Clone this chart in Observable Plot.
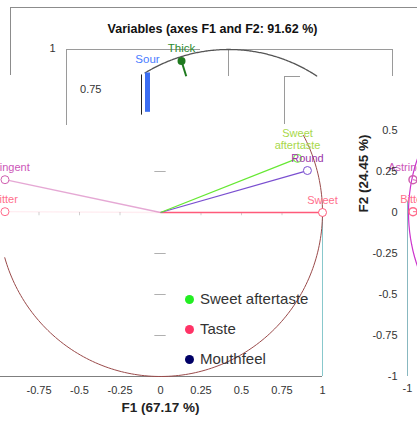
<!DOCTYPE html>
<html><head><meta charset="utf-8">
<script src="https://cdn.jsdelivr.net/npm/d3@7"></script>
<script src="https://cdn.jsdelivr.net/npm/@observablehq/plot@0.6"></script>
<style>
html,body{margin:0;padding:0;background:#fff;overflow:hidden;}
#wrap{position:relative;width:417px;height:425px;font-family:"Liberation Sans",Arial,sans-serif;overflow:hidden;}
.deco{position:absolute;border-color:#8c8c8c;border-style:solid;border-width:0;box-sizing:border-box;}
#chart{position:absolute;left:0;top:0;}
.title{position:absolute;top:22px;left:0;width:425px;text-align:center;font-weight:bold;font-size:12.5px;color:#111;}
.legend{position:absolute;left:185px;top:284px;font-size:15px;color:#333;}
.legend .row{height:30px;line-height:18px;display:flex;align-items:center;}
.legend .dot{width:9px;height:9px;border-radius:50%;margin-right:6px;}
</style>
</head><body>
<div id="wrap">
  <div class="deco" style="left:10px;top:7px;width:407px;height:68px;border-top-width:1px;border-left-width:1px;"></div>
  <div class="deco" style="left:66px;top:49px;width:134px;height:76px;border-top-width:1px;border-left-width:1px;border-color:#9a9a9a;"></div>
  <div class="deco" style="left:228px;top:49px;width:165px;height:27px;border-top-width:1px;border-left-width:1px;border-right-width:1px;border-color:#9a9a9a;"></div>
  <div class="deco" style="left:284px;top:76px;width:16px;height:48px;border-top-width:1px;border-left-width:1px;border-color:#9a9a9a;"></div>
  <div id="chart"></div>
  <div class="title" id="title"></div>
  <div class="legend" id="legend"></div>
</div>
<script>
// ---- data ----
const variables = ["Sweet", "Round", "Sweet aftertaste", "Astringent", "Bitter", "Sour", "Thick"];
const f1 = [1.0, 0.907, 0.846, -0.96, -0.96, -0.5, -0.29];
const f2 = [0.0, 0.256, 0.33, 0.2, 0.005, 0.86, 0.93];
const varColors = ["#ff5a7a", "#7a4fd0", "#66e833", "#d060b0", "#ff6a8a", "#3c6ef2", "#1f7a1f"];
const labelColors = ["#ff6f8c", "#9a35a8", "#a8d84a", "#cc55b8", "#ff6f8c", "#4a7cff", "#2e8b2e"];
const xTicks = [-0.75, -0.5, -0.25, 0, 0.25, 0.5, 0.75, 1];
const yTicks = [0.5, 0.25, 0, -0.25, -0.5, -0.75, -1];
const centerTicksY = [0.25, -0.25, -0.5, -0.75];
const centerTicksX = [-0.75, -0.5, -0.25, 0.25, 0.5, 0.75];
const legendLabels = ["Sweet aftertaste", "Taste", "Mouthfeel"];
const legendColors = ["#22ee22", "#ff3366", "#000066"];
const titleText = "Variables (axes F1 and F2: 91.62 %)";
const xLabel = "F1 (67.17 %)";
const yLabel = "F2 (24.45 %)";

// ---- helpers ----
const idx = d3.range(variables.length);
const topCopy = ["Sour", "Thick"];
const rightCopy = ["Astringent", "Bitter"];
const mainIdx = idx.filter(i => !topCopy.includes(variables[i]));
const topIdx = idx.filter(i => topCopy.includes(variables[i]));
const rightIdx = idx.filter(i => rightCopy.includes(variables[i]));
const arc = (a0, a1, n = 160) => d3.range(n + 1).map(k => {
  const t = (a0 + (a1 - a0) * k / n) * Math.PI / 180;
  return [Math.cos(t), Math.sin(t)];
});
const labelText = i => variables[i] === "Sweet aftertaste" ? "Sweet\naftertaste" : variables[i];

const fontFamily = '"Liberation Sans", Arial, sans-serif';

const plot = Plot.plot({
  width: 417,
  height: 425,
  marginLeft: 0,
  marginRight: 95,
  marginTop: 48,
  marginBottom: 49,
  x: {domain: [-1, 1], range: [-2, 322]},
  y: {domain: [-1, 1], range: [376, 48]},
  style: {background: "transparent", overflow: "visible", fontFamily},
  marks: [
    // center cross ticks
    Plot.ruleY(centerTicksY, {y: d => d, x1: () => -0.035, x2: () => 0.035, stroke: "#b0b0b0"}),
    Plot.ruleX(centerTicksX, {x: d => d, y1: () => -0.02, y2: () => 0, stroke: "#cfcfcf"}),
    // frame pieces
    Plot.ruleY([-1], {stroke: "#7f7f7f"}),
    Plot.ruleX([1], {y1: () => -1, y2: () => 0, stroke: "#88c8cc"}),
    Plot.ruleX([-1], {y1: () => -1, y2: () => 0.07, stroke: "#88b8c0", dx: 409}),
    // circles
    Plot.line(arc(196, 388), {x: d => d[0], y: d => d[1], stroke: "#9a4a4a", strokeWidth: 1}),
    Plot.line(arc(57, 121), {x: d => d[0], y: d => d[1], stroke: "#555", strokeWidth: 1.3, dx: 68, dy: 1}),
    Plot.line(arc(0, 360), {x: d => d[0], y: d => d[1], stroke: "#cc33cc", strokeWidth: 1.2, dx: 410}),
    // main vectors
    Plot.link(mainIdx, {x1: () => 0, y1: () => 0, x2: i => f1[i], y2: i => f2[i], stroke: i => varColors[i], strokeWidth: 1.3,
      strokeOpacity: i => (f1[i] < 0 ? (variables[i] === "Bitter" ? 0.12 : 0.55) : 1),
      strokeDasharray: i => (f1[i] < 0 ? "3,2" : null)}),
    Plot.dot(mainIdx, {x: i => f1[i], y: i => f2[i], r: 4, stroke: i => varColors[i], fill: "white", strokeWidth: 1}),
    Plot.text(mainIdx, {x: i => f1[i], y: i => f2[i], text: labelText, fill: i => labelColors[i], dy: -9, lineAnchor: "bottom", lineHeight: 1.15, fontSize: 11}),
    // right copy (shifted)
    Plot.link(rightIdx, {x1: i => f1[i] * 0.97, y1: i => f2[i] * 0.97, x2: i => f1[i], y2: i => f2[i], stroke: i => varColors[i], dx: 408}),
    Plot.dot(rightIdx, {x: i => f1[i], y: i => f2[i], r: 4, stroke: i => varColors[i], fill: "none", dx: 408}),
    Plot.text(rightIdx, {x: i => f1[i], y: i => f2[i], text: labelText, fill: i => labelColors[i], dy: -9, lineAnchor: "bottom", fontSize: 11, dx: 408}),
    // top copy (shifted)
    Plot.link(topIdx.filter(i => variables[i] === "Sour"), {x1: i => f1[i], y1: i => f2[i], x2: i => f1[i], y2: i => f2[i] - 0.245, stroke: "#222", strokeWidth: 1, dx: 62, dy: 3}),
    Plot.link(topIdx.filter(i => variables[i] === "Sour"), {x1: i => f1[i], y1: i => f2[i], x2: i => f1[i], y2: i => f2[i] - 0.24, stroke: i => varColors[i], strokeWidth: 5, dx: 68, dy: 1}),
    Plot.link(topIdx.filter(i => variables[i] === "Thick"), {x1: i => f1[i], y1: i => f2[i], x2: i => f1[i] * 0.9, y2: i => f2[i] * 0.9, stroke: i => varColors[i], strokeWidth: 2, dx: 68, dy: 1}),
    Plot.dot(topIdx.filter(i => variables[i] === "Thick"), {x: i => f1[i], y: i => f2[i], r: 4, fill: i => varColors[i], dx: 68, dy: 1}),
    Plot.text(topIdx, {x: i => f1[i], y: i => f2[i], text: labelText, fill: i => labelColors[i], dy: -8, lineAnchor: "bottom", fontSize: 11.5, dx: 68}),
    // axes
    Plot.axisX(xTicks, {anchor: "bottom", tickSize: 0, tickPadding: 10, tickFormat: d => String(d), label: null, fontSize: 11, color: "#333"}),
    Plot.axisX([-1], {anchor: "bottom", tickSize: 0, tickPadding: 8, tickFormat: d => String(d), label: null, fontSize: 11, color: "#333", dx: 409}),
    Plot.axisY(yTicks, {anchor: "left", tickSize: 0, tickPadding: 10, tickFormat: d => String(d), label: null, fontSize: 11, color: "#333", dx: 407}),
    Plot.text([1], {y: d => d, text: d => String(d), frameAnchor: "left", textAnchor: "end", dx: 55, fontSize: 11, fill: "#333"}),
    Plot.text([0.75], {y: d => d, text: d => String(d), frameAnchor: "left", textAnchor: "end", dx: 101, fontSize: 11, fill: "#333"}),
    Plot.text([xLabel], {x: () => 0, frameAnchor: "bottom", dy: 35, text: d => d, fontWeight: "bold", fontSize: 13.5, fill: "#222"}),
    Plot.text([yLabel], {y: () => 0, frameAnchor: "left", dx: 363, rotate: -90, text: d => d, fontWeight: "bold", fontSize: 13.5, fill: "#222"})
  ]
});
document.getElementById("chart").appendChild(plot);
document.getElementById("title").textContent = titleText;

const legend = d3.select("#legend");
legendLabels.forEach((lab, i) => {
  const row = legend.append("div").attr("class", "row");
  row.append("div").attr("class", "dot").style("background", legendColors[i]);
  row.append("span").text(lab);
});
</script>
</body></html>
